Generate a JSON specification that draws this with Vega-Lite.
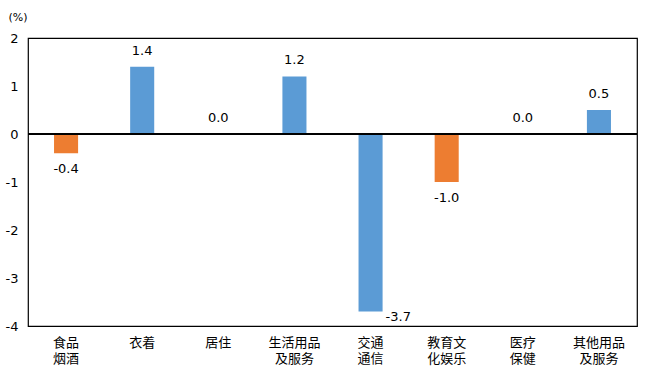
{
  "$schema": "https://vega.github.io/schema/vega-lite/v6.json",
  "width": 609,
  "height": 288,
  "autosize": {"type": "none"},
  "padding": {"left": 28, "top": 38, "right": 20, "bottom": 52},
  "config": {
    "font": "DejaVu Sans, Noto Sans CJK SC",
    "view": {"stroke": "#000000", "strokeWidth": 1.2},
    "background": "#ffffff",
    "locale": {"number": {"decimal": ".", "thousands": ",", "grouping": [3], "currency": ["$", ""], "minus": "-"}}
  },
  "data": {
    "values": [
      {"类别": "食品烟酒", "涨跌": -0.4, "组": "b"},
      {"类别": "衣着", "涨跌": 1.4, "组": "a"},
      {"类别": "居住", "涨跌": 0.0, "组": "a"},
      {"类别": "生活用品及服务", "涨跌": 1.2, "组": "a"},
      {"类别": "交通通信", "涨跌": -3.7, "组": "a"},
      {"类别": "教育文化娱乐", "涨跌": -1.0, "组": "b"},
      {"类别": "医疗保健", "涨跌": 0.0, "组": "a"},
      {"类别": "其他用品及服务", "涨跌": 0.5, "组": "a"}
    ]
  },
  "encoding": {
    "x": {
      "field": "类别", "type": "nominal", "sort": null,
      "scale": {"paddingInner": 0.684, "paddingOuter": 0.342},
      "axis": {
        "title": null, "labelAngle": 0, "ticks": false, "domain": false,
        "labelFontSize": 13, "labelColor": "#000000", "labelPadding": 10,
        "labelLineHeight": 16,
        "labelFont": "Noto Sans CJK SC",
        "labelExpr": "length(datum.value) == 2 ? datum.value : length(datum.value) == 4 ? [substring(datum.value, 0, 2), substring(datum.value, 2)] : length(datum.value) == 6 ? [substring(datum.value, 0, 3), substring(datum.value, 3)] : [substring(datum.value, 0, 4), substring(datum.value, 4)]"
      }
    },
    "y": {
      "field": "涨跌", "type": "quantitative",
      "scale": {"domain": [-4, 2], "nice": false},
      "axis": {
        "title": "(%)", "titleAngle": 0, "titleX": -20, "titleY": -16,
        "titleAlign": "left", "titleFontSize": 11, "titleFontWeight": "normal",
        "titleColor": "#000000", "titleFont": "DejaVu Sans",
        "values": [-4, -3, -2, -1, 0, 1, 2],
        "grid": false, "ticks": false, "domain": false,
        "labelFontSize": 13, "labelColor": "#000000", "labelPadding": 10
      }
    }
  },
  "layer": [
    {
      "mark": {"type": "bar"},
      "encoding": {
        "color": {
          "field": "组", "type": "nominal", "legend": null,
          "scale": {"domain": ["a", "b"], "range": ["#5B9BD5", "#ED7D31"]}
        }
      }
    },
    {
      "mark": {"type": "rule", "color": "#000000", "strokeWidth": 1},
      "encoding": {"y": {"datum": 0}, "x": {"value": 0}, "x2": {"value": 609}}
    },
    {
      "transform": [{"filter": "datum['涨跌'] >= 0"}],
      "mark": {"type": "text", "fontSize": 13, "dy": -16, "color": "#000000", "baseline": "middle"},
      "encoding": {"text": {"field": "涨跌", "type": "quantitative", "format": ".1f"}}
    },
    {
      "transform": [{"filter": "datum['涨跌'] < 0 && datum['涨跌'] > -3"}],
      "mark": {"type": "text", "fontSize": 13, "dy": 16, "color": "#000000", "baseline": "middle"},
      "encoding": {"text": {"field": "涨跌", "type": "quantitative", "format": ".1f"}}
    },
    {
      "transform": [{"filter": "datum['涨跌'] <= -3"}],
      "mark": {"type": "text", "fontSize": 13, "dy": 5, "dx": 15, "align": "left", "color": "#000000", "baseline": "middle"},
      "encoding": {"text": {"field": "涨跌", "type": "quantitative", "format": ".1f"}}
    }
  ]
}
